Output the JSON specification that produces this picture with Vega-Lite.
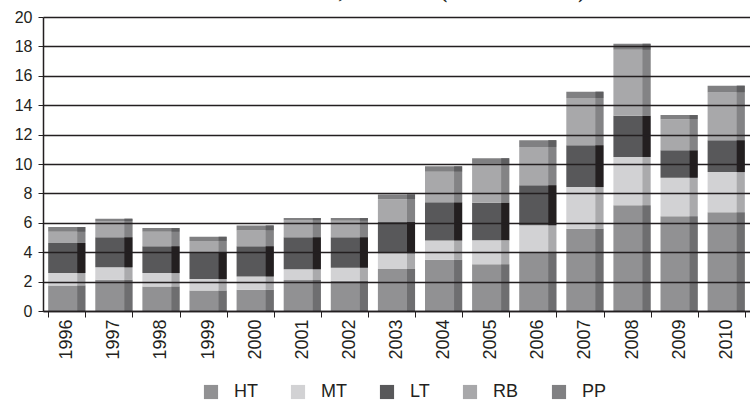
{
  "$schema": "https://vega.github.io/schema/vega-lite/v6.json",
  "autosize": {"type": "none"},
  "padding": {"left": 43, "top": 17, "right": 0, "bottom": 89},
  "width": 707,
  "height": 294,
  "background": "white",
  "title": {
    "text": "Rio Grande do Sul, 1996-2010 (em US$ bilhões)",
    "font": "Liberation Serif",
    "fontSize": 20,
    "fontWeight": "bold",
    "color": "#231f20",
    "frame": "bounds",
    "anchor": "middle",
    "baseline": "alphabetic",
    "offset": -9
  },
  "config": {
    "view": {"stroke": null},
    "font": "Liberation Sans",
    "axis": {"labelFont": "Liberation Sans", "labelColor": "#231f20"}
  },
  "datasets": {
    "cats": [
      {"cat": "HT", "rank": 1}, {"cat": "MT", "rank": 2}, {"cat": "LT", "rank": 3}, {"cat": "RB", "rank": 4}, {"cat": "PP", "rank": 5}
    ]
  },
  "data": {
    "values": [
      {"year": "1996", "cat": "HT", "value": 1.74}, {"year": "1996", "cat": "MT", "value": 0.84}, {"year": "1996", "cat": "LT", "value": 2.05}, {"year": "1996", "cat": "RB", "value": 0.76}, {"year": "1996", "cat": "PP", "value": 0.32},
      {"year": "1997", "cat": "HT", "value": 2.12}, {"year": "1997", "cat": "MT", "value": 0.85}, {"year": "1997", "cat": "LT", "value": 2.05}, {"year": "1997", "cat": "RB", "value": 1.10}, {"year": "1997", "cat": "PP", "value": 0.16},
      {"year": "1998", "cat": "HT", "value": 1.67}, {"year": "1998", "cat": "MT", "value": 0.91}, {"year": "1998", "cat": "LT", "value": 1.83}, {"year": "1998", "cat": "RB", "value": 0.98}, {"year": "1998", "cat": "PP", "value": 0.25},
      {"year": "1999", "cat": "HT", "value": 1.39}, {"year": "1999", "cat": "MT", "value": 0.78}, {"year": "1999", "cat": "LT", "value": 1.85}, {"year": "1999", "cat": "RB", "value": 0.75}, {"year": "1999", "cat": "PP", "value": 0.28},
      {"year": "2000", "cat": "HT", "value": 1.44}, {"year": "2000", "cat": "MT", "value": 0.91}, {"year": "2000", "cat": "LT", "value": 2.06}, {"year": "2000", "cat": "RB", "value": 1.07}, {"year": "2000", "cat": "PP", "value": 0.34},
      {"year": "2001", "cat": "HT", "value": 2.11}, {"year": "2001", "cat": "MT", "value": 0.73}, {"year": "2001", "cat": "LT", "value": 2.18}, {"year": "2001", "cat": "RB", "value": 1.14}, {"year": "2001", "cat": "PP", "value": 0.16},
      {"year": "2002", "cat": "HT", "value": 2.05}, {"year": "2002", "cat": "MT", "value": 0.90}, {"year": "2002", "cat": "LT", "value": 2.07}, {"year": "2002", "cat": "RB", "value": 1.12}, {"year": "2002", "cat": "PP", "value": 0.18},
      {"year": "2003", "cat": "HT", "value": 2.86}, {"year": "2003", "cat": "MT", "value": 1.07}, {"year": "2003", "cat": "LT", "value": 2.12}, {"year": "2003", "cat": "RB", "value": 1.56}, {"year": "2003", "cat": "PP", "value": 0.32},
      {"year": "2004", "cat": "HT", "value": 3.48}, {"year": "2004", "cat": "MT", "value": 1.32}, {"year": "2004", "cat": "LT", "value": 2.59}, {"year": "2004", "cat": "RB", "value": 2.09}, {"year": "2004", "cat": "PP", "value": 0.36},
      {"year": "2005", "cat": "HT", "value": 3.18}, {"year": "2005", "cat": "MT", "value": 1.64}, {"year": "2005", "cat": "LT", "value": 2.55}, {"year": "2005", "cat": "RB", "value": 2.65}, {"year": "2005", "cat": "PP", "value": 0.37},
      {"year": "2006", "cat": "HT", "value": 4.05}, {"year": "2006", "cat": "MT", "value": 1.78}, {"year": "2006", "cat": "LT", "value": 2.73}, {"year": "2006", "cat": "RB", "value": 2.60}, {"year": "2006", "cat": "PP", "value": 0.46},
      {"year": "2007", "cat": "HT", "value": 5.60}, {"year": "2007", "cat": "MT", "value": 2.83}, {"year": "2007", "cat": "LT", "value": 2.85}, {"year": "2007", "cat": "RB", "value": 3.21}, {"year": "2007", "cat": "PP", "value": 0.43},
      {"year": "2008", "cat": "HT", "value": 7.20}, {"year": "2008", "cat": "MT", "value": 3.28}, {"year": "2008", "cat": "LT", "value": 2.80}, {"year": "2008", "cat": "RB", "value": 4.49}, {"year": "2008", "cat": "PP", "value": 0.41},
      {"year": "2009", "cat": "HT", "value": 6.45}, {"year": "2009", "cat": "MT", "value": 2.62}, {"year": "2009", "cat": "LT", "value": 1.86}, {"year": "2009", "cat": "RB", "value": 2.12}, {"year": "2009", "cat": "PP", "value": 0.28},
      {"year": "2010", "cat": "HT", "value": 6.72}, {"year": "2010", "cat": "MT", "value": 2.73}, {"year": "2010", "cat": "LT", "value": 2.17}, {"year": "2010", "cat": "RB", "value": 3.25}, {"year": "2010", "cat": "PP", "value": 0.46}
    ]
  },
  "transform": [
    {"lookup": "cat", "from": {"data": {"name": "cats"}, "key": "cat", "fields": ["rank"]}}
  ],
  "encoding": {
    "x": {
      "field": "year",
      "type": "ordinal",
      "scale": {"paddingInner": 0.21, "paddingOuter": 0.11},
      "axis": {
        "title": null,
        "labelAngle": -90,
        "labelAlign": "right",
        "labelBaseline": "middle",
        "labelFontSize": 18,
        "labelPadding": 2,
        "tickBand": "extent",
        "tickSize": 6,
        "tickColor": "#231f20",
        "domainColor": "#231f20",
        "domainWidth": 1.5,
        "zindex": 1
      }
    },
    "y": {
      "field": "value",
      "type": "quantitative",
      "aggregate": "sum",
      "stack": "zero",
      "scale": {"domain": [0, 20], "nice": false},
      "axis": {
        "title": null,
        "values": [0, 2, 4, 6, 8, 10, 12, 14, 16, 18, 20],
        "labelFontSize": 16,
        "labelPadding": 6,
        "tickSize": 5,
        "tickColor": "#231f20",
        "domainColor": "#231f20",
        "domainWidth": 1.5,
        "grid": true,
        "gridColor": "#231f20",
        "gridWidth": 1.5,
        "zindex": 1
      }
    },
    "order": {"field": "rank", "type": "quantitative", "sort": "ascending"}
  },
  "layer": [
    {
      "mark": {"type": "bar"},
      "encoding": {
        "color": {
          "field": "cat",
          "type": "nominal",
          "sort": ["HT", "MT", "LT", "RB", "PP"],
          "scale": {
            "domain": ["HT", "MT", "LT", "RB", "PP"],
            "range": ["#919193", "#d2d2d4", "#58585a", "#a8a8aa", "#808082"]
          },
          "legend": {
            "title": null,
            "orient": "none",
            "legendX": 159,
            "legendY": 366,
            "direction": "horizontal",
            "symbolType": "square",
            "symbolSize": 200,
            "symbolStrokeWidth": 0,
            "labelFontSize": 18,
            "labelColor": "#231f20",
            "labelOffset": 14,
            "columnPadding": 31
          }
        }
      }
    },
    {
      "mark": {"type": "bar", "width": 8, "xOffset": 14.5},
      "encoding": {
        "fill": {
          "field": "cat",
          "type": "nominal",
          "sort": ["HT", "MT", "LT", "RB", "PP"],
          "scale": {
            "domain": ["HT", "MT", "LT", "RB", "PP"],
            "range": ["#6e6e70", "#aaaaac", "#231f20", "#838385", "#5f5f61"]
          },
          "legend": null
        }
      }
    }
  ]
}
